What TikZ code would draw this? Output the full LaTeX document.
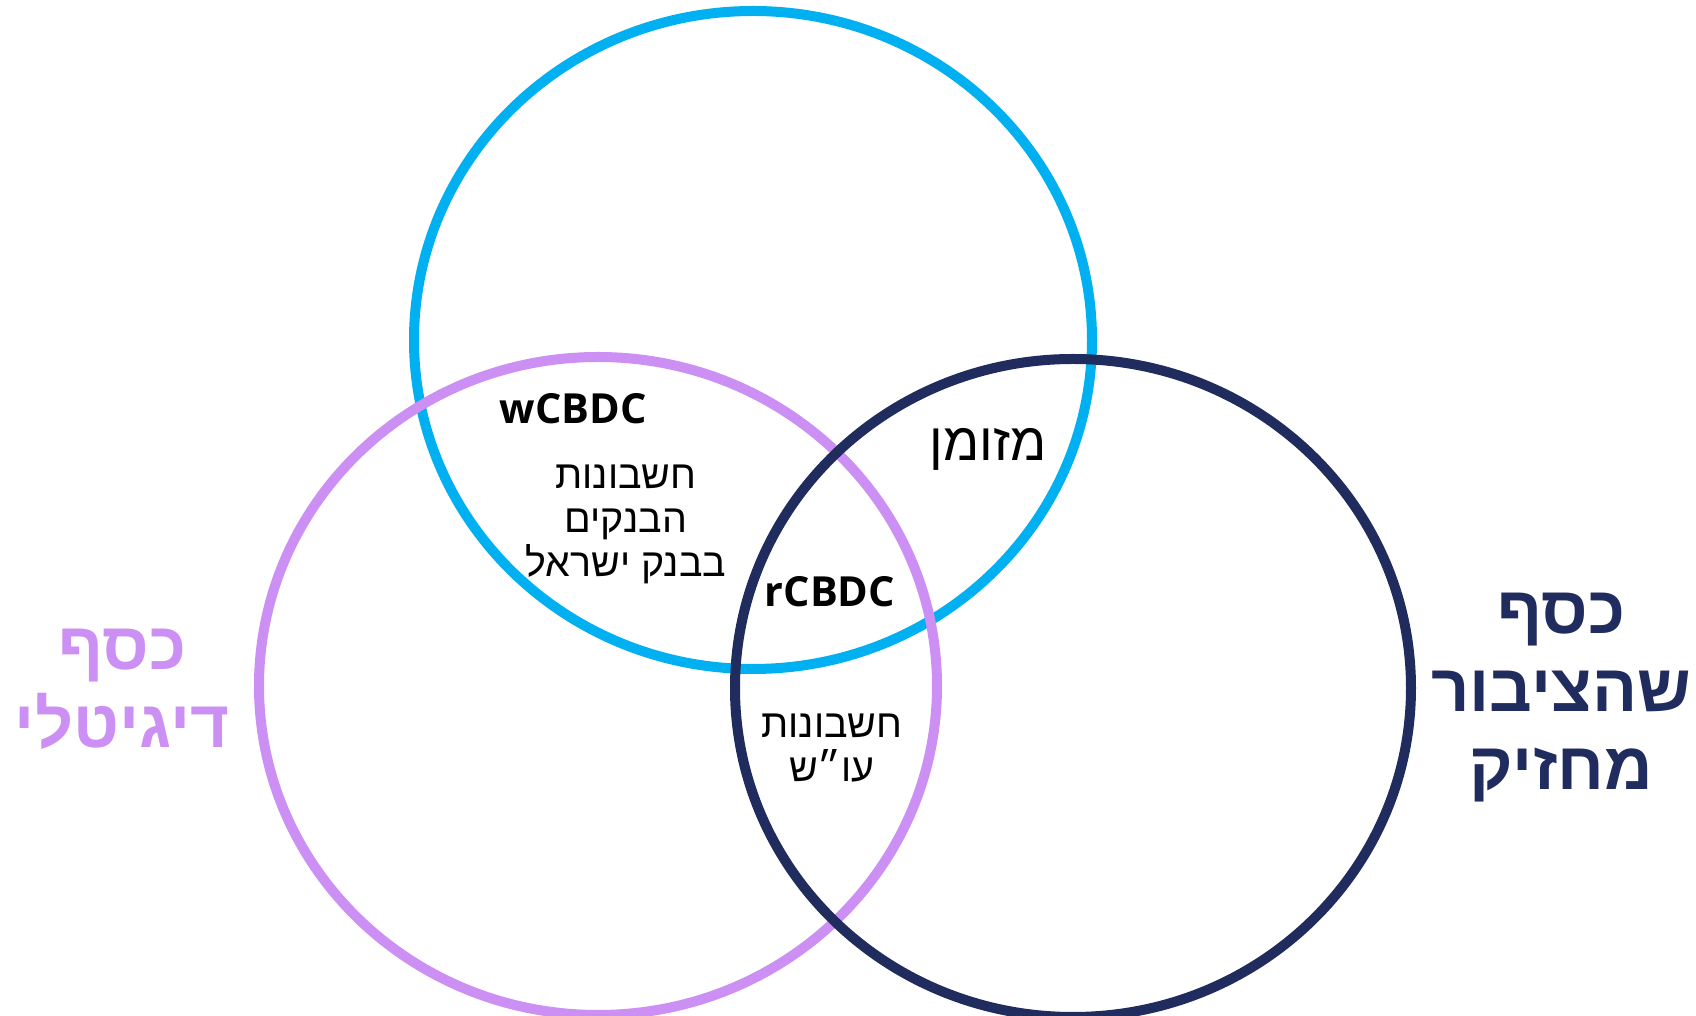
\documentclass[tikz,border=0pt]{standalone}
\usepackage{fontspec}
\setmainfont{Open Sans}
\newfontfamily\hebfont[Script=Hebrew]{Liberation Sans}
\newfontfamily\hebbold[Script=Hebrew]{Liberation Sans Bold}
\TeXXeTstate=1
\usepackage{tikz}

\definecolor{setblue}{HTML}{00B0F0}
\definecolor{setpurple}{HTML}{CC8FF3}
\definecolor{setnavy}{HTML}{202B5E}

\tikzset{
  venn/.style={line width=1mm},
  inner/.style={font=\hebfont\fontsize{11.2}{12.5}\selectfont, align=center, inner sep=0pt},
  code/.style={font=\bfseries\fontsize{11.8}{12}\selectfont, inner sep=0pt},
  title/.style={font=\hebbold\fontsize{19}{22.2}\selectfont, align=center, inner sep=0pt}
}

\begin{document}
\begin{tikzpicture}

  \useasboundingbox (0,0) rectangle (16.96,10.16);

  % the three sets
  \draw[venn, setblue] (7.53,6.76) ellipse [x radius=3.39, y radius=3.29];
  \draw[venn, setpurple] (5.98,3.30) ellipse [x radius=3.39, y radius=3.29];
  \draw[venn, setnavy] (10.73,3.28) ellipse [x radius=3.38, y radius=3.29];

  \node[code] (wcbdc) at (5.73,6.07) {wCBDC};
  \node[inner] (banks) at (6.26,4.92) {\beginR חשבונות\endR\\ \beginR הבנקים\endR\\ \beginR בבנק ישראל\endR};
  \node[inner, font=\hebfont\fontsize{15}{15}\selectfont] (cash) at (9.88,5.67) {\beginR מזומן\endR};
  \node[code] (rcbdc) at (8.30,4.24) {rCBDC};
  \node[inner] (current) at (8.32,2.68) {\beginR חשבונות\endR\\ \beginR עו״ש\endR};

  \node[title, setpurple] (digital) at (1.22,3.27) {\beginR כסף\endR\\ \beginR דיגיטלי\endR};
  \node[title, setnavy] (public) at (15.61,3.18) {\beginR כסף\endR\\ \beginR שהציבור\endR\\ \beginR מחזיק\endR};

\end{tikzpicture}
\end{document}
